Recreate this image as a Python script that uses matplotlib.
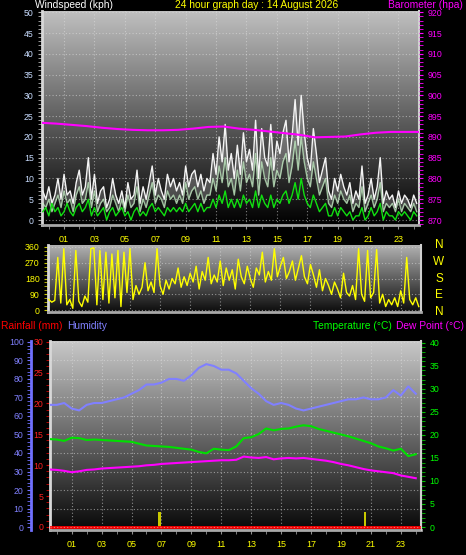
import numpy as np
import matplotlib
matplotlib.use('Agg')
import matplotlib.pyplot as plt
from matplotlib.colors import LinearSegmentedColormap
from matplotlib.ticker import MultipleLocator

plt.rcParams['font.family'] = ['Liberation Sans', 'DejaVu Sans']

# ---- wind (12 minute samples) ----
wind_hours = np.arange(-0.4, 24.21, 0.2)
wind_gust = [7, 5, 8, 4, 6, 10, 5, 11, 6, 7, 4, 9, 12, 6, 8, 15, 5, 11, 4, 7,
             8, 3, 5, 10, 6, 4, 7, 3, 9, 5, 6, 12, 4, 8, 5, 9, 13, 6, 10, 7,
             5, 11, 8, 10, 7, 9, 6, 13, 8, 11, 12, 8, 11, 7, 10, 9, 16, 11, 20, 14,
             23, 12, 16, 10, 18, 11, 21, 14, 17, 12, 24, 10, 22, 15, 13, 23, 12, 19, 16, 21,
             24, 14, 20, 29, 18, 30, 21, 15, 12, 22, 16, 9, 12, 15, 7, 5, 10, 7, 11, 8,
             6, 9, 4, 7, 5, 13, 4, 6, 10, 5, 8, 15, 4, 7, 5, 6, 3, 7, 4, 6,
             5, 3, 6, 4]
wind_speed = [4, 3, 5, 2, 4, 6, 3, 7, 4, 5, 2, 6, 8, 4, 5, 9, 3, 7, 2, 4,
              5, 2, 3, 6, 4, 2, 5, 2, 6, 3, 4, 8, 2, 5, 3, 6, 9, 4, 6, 5,
              3, 7, 5, 6, 4, 6, 4, 9, 5, 7, 8, 5, 7, 4, 6, 6, 10, 7, 13, 9,
              15, 8, 10, 6, 12, 7, 14, 9, 11, 8, 16, 6, 14, 10, 8, 15, 8, 12, 10, 14,
              16, 9, 13, 19, 12, 20, 14, 10, 8, 14, 10, 6, 8, 10, 4, 3, 6, 4, 7, 5,
              4, 6, 2, 4, 3, 8, 2, 4, 6, 3, 5, 9, 2, 4, 3, 4, 2, 5, 2, 4,
              3, 2, 4, 2]
wind_avg = [2, 3, 1, 4, 2, 3, 1, 2, 4, 2, 1, 3, 4, 2, 3, 5, 1, 3, 1, 2,
            3, 0, 2, 3, 1, 2, 3, 1, 2, 0, 2, 3, 1, 2, 1, 3, 4, 2, 3, 2,
            1, 3, 2, 3, 2, 3, 2, 4, 2, 3, 4, 2, 4, 2, 3, 3, 5, 3, 6, 4,
            7, 3, 5, 3, 5, 3, 6, 4, 5, 3, 7, 3, 6, 4, 3, 6, 3, 5, 4, 6,
            7, 4, 6, 9, 5, 10, 6, 4, 3, 6, 4, 2, 3, 4, 1, 1, 3, 1, 3, 2,
            1, 2, 0, 1, 1, 3, 0, 1, 3, 1, 2, 4, 0, 2, 1, 1, 0, 2, 1, 2,
            1, 0, 2, 1]
wind_dir = [60, 45, 55, 300, 40, 350, 30, 60, 10, 340, 50, 20, 80, 45, 350, 355, 30, 340, 60, 330,
            40, 320, 70, 340, 20, 330, 100, 350, 60, 140, 90, 130, 270, 110, 160, 100, 350, 140, 90, 170,
            120, 180, 150, 240, 130, 190, 140, 210, 160, 250, 120, 220, 170, 300, 150, 200, 160, 280, 140, 240,
            170, 230, 120, 290, 190, 150, 250, 180, 130, 240, 200, 330, 160, 220, 170, 350, 190, 250, 300, 180,
            220, 280, 170, 240, 310, 190, 150, 260, 200, 130, 230, 110, 180, 140, 90, 160, 120, 70, 210, 100,
            80, 140, 60, 350, 90, 50, 340, 70, 100, 345, 40, 90, 20, 60, 30, 70, 20, 110, 40, 300,
            60, 30, 70, 20]

# ---- barometer (hourly) ----
baro_hours = np.arange(-0.5, 24.6, 1.0)
baro = [893.4, 893.2, 892.9, 892.6, 892.2, 891.9, 891.7, 891.6, 891.6, 891.7, 892.0, 892.4, 892.5,
        892.0, 891.7, 891.3, 890.9, 890.5, 889.9, 890.0, 890.1, 890.6, 891.0, 891.2, 891.2, 891.2]

# ---- temperature / humidity (half hourly) ----
th_hours = np.arange(-0.5, 24.01, 0.5)
humidity = [66, 66, 67, 64, 63, 66, 67, 67, 68, 69, 70, 72, 74, 77, 77, 78, 80, 80, 79, 82,
            86, 88, 87, 85, 85, 83, 79, 75, 72, 68, 66, 67, 66, 64, 63, 64, 65, 66, 67, 68,
            69, 69, 70, 69, 69, 70, 74, 71, 76, 72]
temperature = [19.1, 19.0, 18.7, 19.4, 19.3, 18.9, 19.0, 18.9, 18.8, 18.7, 18.6, 18.5, 18.1, 17.7,
               17.6, 17.5, 17.4, 17.2, 17.0, 16.8, 16.3, 16.0, 17.0, 16.8, 16.7, 17.5, 19.3, 19.5,
               20.2, 21.4, 21.0, 21.3, 21.4, 21.8, 22.1, 21.9, 21.3, 20.9, 20.5, 20.1, 19.7, 19.2,
               18.7, 18.2, 17.5, 17.1, 16.6, 17.0, 15.4, 15.8]
dewpoint = [12.5, 12.4, 12.2, 11.9, 12.1, 12.4, 12.5, 12.7, 12.8, 12.9, 13.0, 13.1, 13.2, 13.4,
            13.5, 13.7, 13.8, 13.9, 14.0, 14.1, 14.2, 14.3, 14.4, 14.5, 14.5, 14.6, 15.3, 15.1,
            15.0, 15.2, 14.7, 14.9, 15.0, 14.9, 15.0, 14.8, 14.6, 14.4, 14.1, 13.7, 13.4, 13.0,
            12.6, 12.3, 12.1, 11.9, 11.7, 11.2, 10.9, 10.6]

rain_hours = np.arange(-0.5, 24.6, 1.0)
rainfall = [0, 0, 0, 0, 0, 0, 0, 0, 0, 0, 0, 0, 0, 0, 0, 0, 0, 0, 0, 0, 0, 0, 0, 0, 0, 0]
marker_hours = [6.87, 20.6]
marker_vals = [2.4, 2.4]

hour_ticks = list(range(1, 24, 2))
hour_labels = ['%02d' % h for h in hour_ticks]

W, H = 466, 555
fig = plt.figure(figsize=(W / 100, H / 100), dpi=100, facecolor='black')


def box(l, t, r, b):
    return [l / W, 1 - b / H, (r - l) / W, (b - t) / H]


def gradient(ax, top, bottom):
    x0, x1 = ax.get_xlim()
    y0, y1 = ax.get_ylim()
    cmap = LinearSegmentedColormap.from_list('g', [bottom, top])
    ax.imshow(np.linspace(0, 1, 256).reshape(-1, 1), extent=[x0, x1, y0, y1],
              origin='lower', aspect='auto', cmap=cmap, zorder=0)
    ax.set_xlim(x0, x1)
    ax.set_ylim(y0, y1)


def frame(ax):
    ax.spines['top'].set_visible(False)
    ax.spines['left'].set_color('#d8d8d8')
    ax.spines['left'].set_linewidth(2)
    ax.spines['bottom'].set_color('#a8a8a8')
    ax.spines['bottom'].set_linewidth(2)
    ax.spines['right'].set_color('#d0d0d0')
    ax.spines['right'].set_linewidth(1.5)


def hours_axis(ax, labels=True):
    ax.set_xlim(-0.45, 24.35)
    ax.set_xticks(hour_ticks)
    ax.xaxis.set_minor_locator(MultipleLocator(1))
    if labels:
        ax.set_xticklabels(hour_labels)
    else:
        ax.set_xticklabels([])
    ax.tick_params(axis='x', which='both', color='#909090', labelcolor='#ffff00',
                   labelsize=6.5, length=3, pad=4)


grid_kw = dict(color='#e0e0e0', linestyle=(0, (1, 2)), linewidth=0.8, alpha=0.55)
tfs = 6.3

# ---------------- panel 1: wind + barometer ----------------
ax1 = fig.add_axes(box(42, 11, 419, 225))
ax1.set_facecolor('black')
hours_axis(ax1)
ax1.set_ylim(-1.2, 50.3)
gradient(ax1, '#c0c0c0', '#000000')
ax1.set_yticks(range(0, 51, 5))
ax1.yaxis.set_minor_locator(MultipleLocator(1))
ax1.tick_params(axis='y', which='both', color='#b0b0b0', labelcolor='#c8dcff',
                labelsize=tfs, length=3, pad=3)
ax1.grid(True, **grid_kw)
frame(ax1)
ax1.fill_between(wind_hours, wind_speed, wind_gust, color='#ffffff', alpha=0.22, lw=0, zorder=2)
ax1.plot(wind_hours, wind_gust, color='#f4f4f4', lw=1.0, zorder=3)
ax1.plot(wind_hours, wind_speed, color='#c8f4c8', lw=1.0, alpha=0.75, zorder=4)
ax1.plot(wind_hours, wind_avg, color='#10e010', lw=1.0, zorder=5)

ax1b = ax1.twinx()
ax1b.set_ylim(868.8, 920.3)
ax1b.set_yticks(range(870, 921, 5))
ax1b.yaxis.set_minor_locator(MultipleLocator(1))
ax1b.tick_params(axis='y', which='both', color='#ff00ff', labelcolor='#ff00ff',
                 labelsize=tfs, length=3, pad=3)
for s in ax1b.spines.values():
    s.set_visible(False)
ax1b.plot(baro_hours, baro, color='#ff00ff', lw=1.5)

# ---------------- panel 2: wind direction ----------------
ax2 = fig.add_axes(box(48, 245, 421, 312))
ax2.set_facecolor('black')
hours_axis(ax2, labels=False)
ax2.tick_params(axis='x', which='both', length=0)
ax2.set_ylim(-11, 371)
gradient(ax2, '#b4b4b4', '#0c0c0c')
ax2.set_yticks([0, 90, 180, 270, 360])
ax2.yaxis.set_minor_locator(MultipleLocator(22.5))
ax2.tick_params(axis='y', which='both', color='#c8c800', labelcolor='#ffff00',
                labelsize=tfs, length=3, pad=3)
ax2.grid(True, **grid_kw)
frame(ax2)
ax2.plot(wind_hours, wind_dir, color='#ffff00', lw=1.0, zorder=3)
for i, letter in enumerate(['N', 'W', 'S', 'E', 'N']):
    fig.text(439 / W, 1 - (245 + i * 16.8) / H, letter, color='#ffff00',
             fontsize=8.5, ha='center', va='center')

# ---------------- panel 3: temperature / humidity / rain ----------------
ax3 = fig.add_axes(box(50, 341, 421, 530))
ax3.set_facecolor('black')
hours_axis(ax3)
ax3.set_ylim(-0.5, 30.1)
gradient(ax3, '#c8c8c8', '#080808')
ax3.set_yticks(range(0, 31, 5))
ax3.yaxis.set_minor_locator(MultipleLocator(1))
ax3.tick_params(axis='y', which='both', color='#d00000', labelcolor='#ff2020',
                labelsize=tfs, length=3, pad=2)
ax3.grid(True, axis='x', **grid_kw)
frame(ax3)
ax3.plot(rain_hours, rainfall, color='#ff0000', lw=2.0, zorder=4)
ax3.bar(marker_hours, marker_vals, width=0.15, color='#c8c800', zorder=3)

ax3h = ax3.twinx()
ax3h.yaxis.tick_left()
ax3h.spines['left'].set_position(('outward', 14))
ax3h.spines['left'].set_color('#7070ff')
ax3h.spines['left'].set_linewidth(2)
for k in ['top', 'right', 'bottom']:
    ax3h.spines[k].set_visible(False)
ax3h.set_ylim(-1.6, 100.5)
ax3h.set_yticks(range(0, 101, 10))
ax3h.yaxis.set_minor_locator(MultipleLocator(2))
ax3h.tick_params(axis='y', which='both', color='#7070ff', labelcolor='#8080ff',
                 labelsize=tfs, length=3, pad=2)
ax3h.grid(True, axis='y', **grid_kw)
ax3h.plot(th_hours, humidity, color='#8080ff', lw=1.5)

ax3t = ax3.twinx()
for k in ['top', 'left', 'bottom']:
    ax3t.spines[k].set_visible(False)
ax3t.spines['right'].set_color('#d0d0d0')
ax3t.set_ylim(-0.65, 40.4)
ax3t.set_yticks(range(0, 41, 5))
ax3t.yaxis.set_minor_locator(MultipleLocator(1))
ax3t.tick_params(axis='y', which='both', color='#00c000', labelcolor='#00ff00',
                 labelsize=tfs, length=3, pad=3)
ax3t.plot(th_hours, temperature, color='#00e000', lw=1.5)
ax3t.plot(th_hours, dewpoint, color='#ff00ff', lw=1.5)

# ---------------- titles ----------------
fs = 7.4
fig.text(35 / W, 1 - 5 / H, 'Windspeed (kph)', color='white', fontsize=fs, va='center')
fig.text(257 / W, 1 - 5 / H, '24 hour graph day : 14 August 2026', color='#ffff00',
         fontsize=fs, va='center', ha='center')
fig.text(463 / W, 1 - 5 / H, 'Barometer (hpa)', color='#ff00ff', fontsize=fs, va='center', ha='right')
fig.text(1 / W, 1 - 326 / H, 'Rainfall (mm)', color='#ff0000', fontsize=fs, va='center')
fig.text(67 / W, 1 - 326 / H, 'Humidity', color='#8080ff', fontsize=fs, va='center')
fig.text(392 / W, 1 - 326 / H, 'Temperature (°C)', color='#00ff00', fontsize=fs, va='center', ha='right')
fig.text(464 / W, 1 - 326 / H, 'Dew Point (°C)', color='#ff00ff', fontsize=fs, va='center', ha='right')

fig.savefig('out.png', dpi=100, facecolor='black')
